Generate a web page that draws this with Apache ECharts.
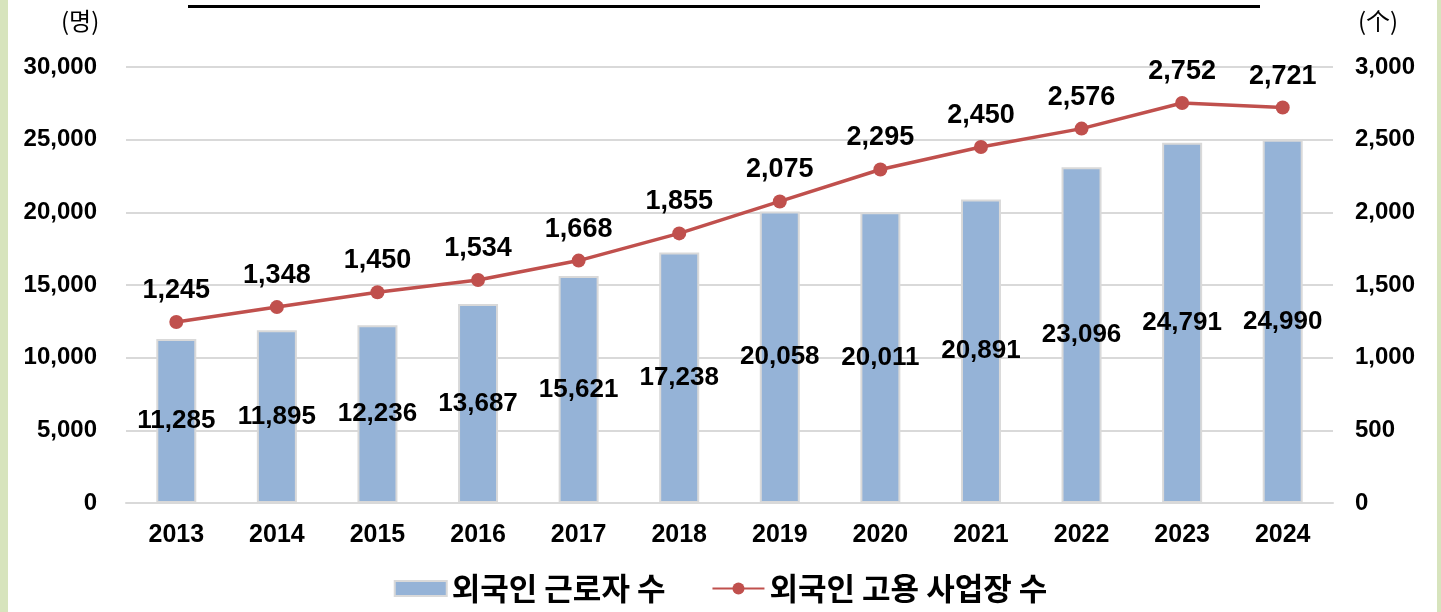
<!DOCTYPE html>
<html>
<head>
<meta charset="utf-8">
<script src="https://cdn.jsdelivr.net/npm/echarts@6/dist/echarts.min.js"></script>
<style>
  html, body { margin: 0; padding: 0; background: #fff; }
  #myChart { width: 1441px; height: 612px; }
</style>
</head>
<body>
<div id="myChart"></div>
<script>
// 연도
var years = ['2013', '2014', '2015', '2016', '2017', '2018', '2019', '2020', '2021', '2022', '2023', '2024'];
// 외국인 근로자 수 (명)
var workers = [11285, 11895, 12236, 13687, 15621, 17238, 20058, 20011, 20891, 23096, 24791, 24990];
// 외국인 고용 사업장 수 (个)
var workplaces = [1245, 1348, 1450, 1534, 1668, 1855, 2075, 2295, 2450, 2576, 2752, 2721];

var numFont = '"Liberation Sans", Arial, sans-serif';
var krFont = '"Noto Sans CJK KR", sans-serif';

function fmt(v) {
  return v.toLocaleString('en-US');
}

var myChart = echarts.init(document.getElementById('myChart'));
myChart.setOption({
  backgroundColor: '#fff',
  animation: false,
  graphic: [
    // 좌우 테두리
    { type: 'rect', left: 0, top: 0, shape: { width: 8, height: 612 }, style: { fill: '#d7e4bd' } },
    { type: 'rect', left: 1437, top: 0, shape: { width: 4, height: 612 }, style: { fill: '#d7e4bd' } },
    // 잘린 제목의 밑줄
    { type: 'rect', left: 188, top: 5, shape: { width: 1072, height: 3 }, style: { fill: '#000' } },
    { type: 'text', left: 61, top: 9, style: { text: '(명)', font: '24px ' + krFont, fill: '#000' } },
    { type: 'text', left: 1358, top: 9, style: { text: '(个)', font: '24px "Noto Sans CJK SC", sans-serif', fill: '#000' } }
  ],
  legend: {
    bottom: 3,
    left: 'center',
    itemGap: 46,
    itemWidth: 52,
    itemHeight: 15,
    textStyle: { fontFamily: krFont, fontSize: 31, fontWeight: 'bold', color: '#000' },
    data: [
      { name: '외국인 근로자 수', icon: 'rect' },
      { name: '외국인 고용 사업장 수' }
    ]
  },
  grid: {
    left: 126,
    right: 108,
    top: 67,
    bottom: 109
  },
  xAxis: {
    type: 'category',
    data: years,
    axisTick: { show: false },
    axisLine: { lineStyle: { color: '#d9d9d9', width: 2 } },
    axisLabel: {
      margin: 20,
      fontFamily: numFont,
      fontSize: 25,
      fontWeight: 'bold',
      color: '#000'
    }
  },
  yAxis: [
    {
      type: 'value',
      min: 0,
      max: 30000,
      interval: 5000,
      axisLine: { show: false },
      axisTick: { show: false },
      splitLine: { lineStyle: { color: '#d9d9d9', width: 2 } },
      axisLabel: {
        margin: 29,
        fontFamily: numFont,
        fontSize: 24,
        fontWeight: 'bold',
        color: '#000',
        formatter: fmt
      }
    },
    {
      type: 'value',
      min: 0,
      max: 3000,
      interval: 500,
      axisLine: { show: false },
      axisTick: { show: false },
      splitLine: { show: false },
      axisLabel: {
        margin: 22,
        fontFamily: numFont,
        fontSize: 24,
        fontWeight: 'bold',
        color: '#000',
        formatter: fmt
      }
    }
  ],
  series: [
    {
      name: '외국인 근로자 수',
      type: 'bar',
      data: workers,
      barWidth: 40,
      itemStyle: { color: '#95b3d7', borderColor: '#d9d9d9', borderWidth: 2 },
      label: {
        show: true,
        position: 'inside',
        fontFamily: numFont,
        fontSize: 26,
        fontWeight: 'bold',
        color: '#000',
        formatter: function (p) { return fmt(p.value); }
      }
    },
    {
      name: '외국인 고용 사업장 수',
      type: 'line',
      yAxisIndex: 1,
      data: workplaces,
      symbol: 'circle',
      symbolSize: 14,
      lineStyle: { color: '#c0504d', width: 3.5 },
      itemStyle: { color: '#c0504d' },
      label: {
        show: true,
        position: 'top',
        distance: 11,
        fontFamily: numFont,
        fontSize: 27,
        fontWeight: 'bold',
        color: '#000',
        formatter: function (p) { return fmt(p.value); }
      }
    }
  ]
});
</script>
</body>
</html>
